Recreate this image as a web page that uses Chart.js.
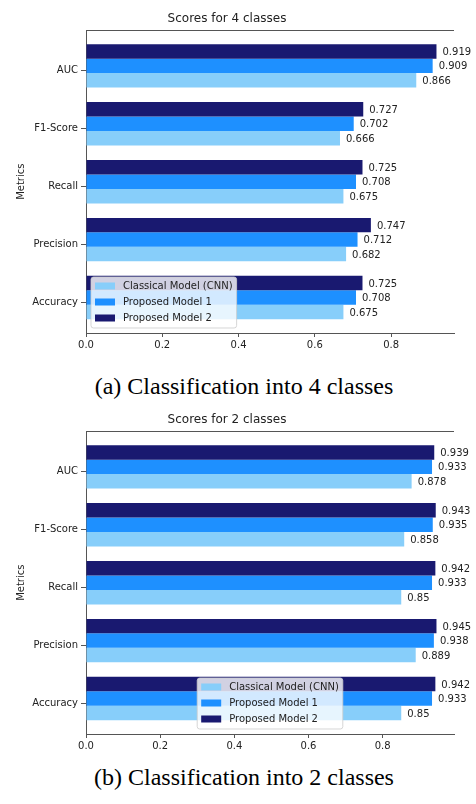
<!DOCTYPE html>
<html>
<head>
<meta charset="utf-8">
<script src="https://cdn.jsdelivr.net/npm/chart.js@4.4.1/dist/chart.umd.min.js"></script>
<style>
  html, body { margin: 0; padding: 0; background: #fff; }
  body { position: relative; width: 476px; height: 804px; overflow: hidden; }
  canvas { position: absolute; left: 0; }
  .caption {
    position: absolute; left: 0; width: 476px; padding-left: 12px; box-sizing: border-box;
    text-align: center; font-family: "Liberation Serif", "Times New Roman", serif;
    font-size: 24px; line-height: 24px; color: #000; white-space: nowrap;
  }
</style>
</head>
<body>
<canvas id="chart4" width="476" height="360" style="top:0px"></canvas>
<div class="caption" style="top:374px">(a) Classification into 4 classes</div>
<canvas id="chart2" width="476" height="360" style="top:401px"></canvas>
<div class="caption" style="top:765px">(b) Classification into 2 classes</div>
<script>
// Metrics, listed from the bottom of the axis to the top
const metrics = ['Accuracy', 'Precision', 'Recall', 'F1-Score', 'AUC'];

// Scores for the 4-class task
const classical4 = [0.675, 0.682, 0.675, 0.666, 0.866];
const proposed1_4 = [0.708, 0.712, 0.708, 0.702, 0.909];
const proposed2_4 = [0.725, 0.747, 0.725, 0.727, 0.919];

// Scores for the 2-class task
const classical2 = [0.85, 0.889, 0.85, 0.858, 0.878];
const proposed1_2 = [0.933, 0.938, 0.933, 0.935, 0.933];
const proposed2_2 = [0.942, 0.945, 0.942, 0.943, 0.939];

const xTicks = [0, 0.2, 0.4, 0.6, 0.8];
const seriesNames = ['Classical Model (CNN)', 'Proposed Model 1', 'Proposed Model 2'];
const seriesColors = ['#87CEFA', '#1E90FF', '#191970'];

const FONT = "'DejaVu Sans', Verdana, sans-serif";
const INK = '#222';
const SPINE = '#555';
const TICK_SHIFT = -0.08;

Chart.defaults.font.family = FONT;
Chart.defaults.color = INK;

// Value printed to the right of every bar
const valueLabels = {
  id: 'valueLabels',
  afterDatasetsDraw(chart) {
    const ctx = chart.ctx;
    ctx.save();
    ctx.font = '10px ' + FONT;
    ctx.fillStyle = INK;
    ctx.textAlign = 'left';
    ctx.textBaseline = 'middle';
    chart.data.datasets.forEach((ds, di) => {
      const meta = chart.getDatasetMeta(di);
      meta.data.forEach((bar, i) => {
        ctx.fillText(String(ds.data[i].x), bar.x + 6, bar.y + 1);
      });
    });
    ctx.restore();
  }
};

// Top spine (no right spine)
const topSpine = {
  id: 'topSpine',
  beforeDatasetsDraw(chart) {
    const {ctx, chartArea} = chart;
    ctx.save();
    ctx.strokeStyle = SPINE;
    ctx.lineWidth = 1;
    ctx.beginPath();
    ctx.moveTo(chartArea.left, Math.round(chartArea.top) + 0.5);
    ctx.lineTo(chartArea.right, Math.round(chartArea.top) + 0.5);
    ctx.stroke();
    ctx.restore();
  }
};

// Framed legend sitting inside the plot area
const boxLegend = {
  id: 'boxLegend',
  afterDraw(chart, args, opts) {
    const {ctx, chartArea} = chart;
    const items = chart.data.datasets.slice().reverse();
    ctx.save();
    ctx.font = '10px ' + FONT;
    let tw = 0;
    items.forEach(d => { tw = Math.max(tw, ctx.measureText(d.label).width); });
    const w = 4 + 20 + 8 + tw + 4;
    const h = 51;
    const x = opts.place === 'center'
      ? (chartArea.left + chartArea.right) / 2 - w / 2
      : chartArea.left + 5;
    const y = chartArea.bottom - 5 - h;
    const r = 2.5;
    ctx.beginPath();
    ctx.moveTo(x + r, y);
    ctx.arcTo(x + w, y, x + w, y + h, r);
    ctx.arcTo(x + w, y + h, x, y + h, r);
    ctx.arcTo(x, y + h, x, y, r);
    ctx.arcTo(x, y, x + w, y, r);
    ctx.closePath();
    ctx.fillStyle = 'rgba(255,255,255,0.8)';
    ctx.fill();
    ctx.strokeStyle = 'rgba(204,204,204,0.8)';
    ctx.lineWidth = 1;
    ctx.stroke();
    items.forEach((d, k) => {
      const cy = y + 9 + k * 16;
      ctx.fillStyle = d.backgroundColor;
      ctx.fillRect(x + 4, cy - 3.5, 20, 7);
      ctx.fillStyle = INK;
      ctx.textBaseline = 'middle';
      ctx.fillText(d.label, x + 32, cy + 0.5);
    });
    ctx.restore();
  }
};

function makeDatasets(series) {
  // topmost bar in each group first
  return [2, 1, 0].map(k => ({
    label: seriesNames[k],
    data: series[k].map((v, i) => ({x: v, y: i})),
    backgroundColor: seriesColors[k],
    borderWidth: 0,
    categoryPercentage: 0.75,
    barPercentage: 1.0
  }));
}

function drawChart(id, title, series, legendPlace) {
  const maxVal = Math.max(...series.flat());
  return new Chart(document.getElementById(id), {
    type: 'bar',
    data: { datasets: makeDatasets(series) },
    plugins: [topSpine, valueLabels, boxLegend],
    options: {
      responsive: false,
      animation: false,
      devicePixelRatio: 1,
      indexAxis: 'y',
      layout: { padding: { left: 0, right: 22, top: 0, bottom: 0 } },
      plugins: {
        legend: { display: false },
        tooltip: { enabled: false },
        title: {
          display: true, text: title, color: INK,
          font: { size: 12, weight: 'normal', family: FONT },
          padding: { top: 12, bottom: 4 }
        },
        boxLegend: { place: legendPlace }
      },
      scales: {
        x: {
          type: 'linear',
          min: 0,
          max: maxVal * 1.05,
          afterFit(scale) { scale.height = 27; },
          afterBuildTicks(scale) { scale.ticks = xTicks.map(v => ({value: v})); },
          ticks: {
            color: INK, font: { size: 10 }, padding: 2,
            callback: v => v.toFixed(1)
          },
          grid: { display: true, drawOnChartArea: false, drawTicks: true, tickLength: 4, color: SPINE },
          border: { display: true, color: SPINE, width: 1 }
        },
        y: {
          type: 'linear',
          offset: false,
          min: -0.6125,
          max: metrics.length - 1 + 0.6125,
          afterFit(scale) { scale.width = 86; },
          afterBuildTicks(scale) { scale.ticks = metrics.map((m, i) => ({value: i + TICK_SHIFT})); },
          ticks: {
            color: INK, font: { size: 10 }, padding: 3,
            callback: (v, i) => metrics[i]
          },
          grid: { display: true, offset: false, drawOnChartArea: false, drawTicks: true, tickLength: 5, color: SPINE },
          border: { display: true, color: SPINE, width: 1 },
          title: {
            display: true, text: 'Metrics', color: INK,
            font: { size: 10, family: FONT },
            padding: { top: 15, bottom: 0 }
          }
        }
      }
    }
  });
}

drawChart('chart4', 'Scores for 4 classes', [classical4, proposed1_4, proposed2_4], 'left');
drawChart('chart2', 'Scores for 2 classes', [classical2, proposed1_2, proposed2_2], 'center');
</script>
</body>
</html>
